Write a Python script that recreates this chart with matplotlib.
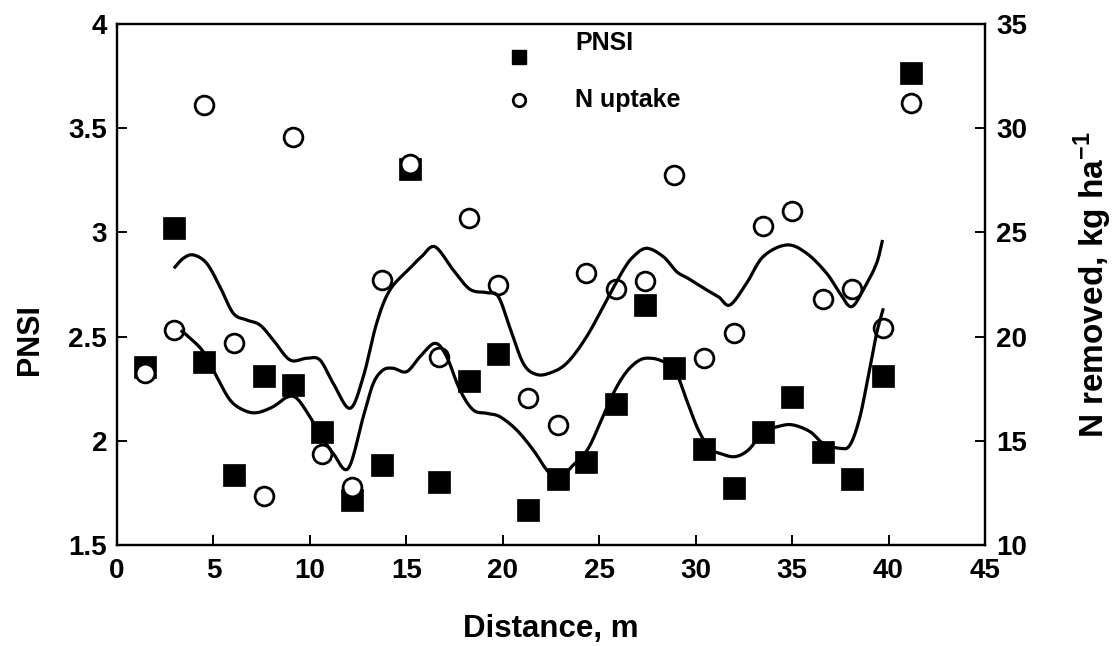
import numpy as np
import matplotlib
matplotlib.use("Agg")
import matplotlib.pyplot as plt

plt.rcParams['font.family'] = ['Liberation Sans', 'DejaVu Sans']
plt.rcParams['font.weight'] = 'bold'
plt.rcParams['mathtext.fontset'] = 'custom'
plt.rcParams['mathtext.bf'] = 'Liberation Sans:bold'
plt.rcParams['mathtext.rm'] = 'Liberation Sans:bold'

# Sampling positions along the transect (m)
distance = [1.45, 2.95, 4.5, 6.08, 7.62, 9.1, 10.64, 12.2, 13.72, 15.19, 16.72,
            18.23, 19.77, 21.3, 22.84, 24.34, 25.86, 27.39, 28.88, 30.45, 31.97,
            33.48, 35.0, 36.6, 38.13, 39.69, 41.16]

# Plant nitrogen sufficiency index
pnsi = [2.354, 3.02, 2.378, 1.836, 2.312, 2.268, 2.044, 1.716, 1.884, 3.306,
        1.804, 2.287, 2.417, 1.668, 1.815, 1.897, 2.175, 2.652, 2.348, 1.959,
        1.772, 2.044, 2.212, 1.948, 1.815, 2.311, 3.766]

# N removed (kg/ha)
n_uptake = [18.27, 20.32, 31.11, 19.68, 12.35, 29.59, 14.37, 12.77, 22.72, 28.27,
            19.01, 25.68, 22.48, 17.04, 15.76, 23.04, 22.27, 22.68, 27.75, 18.96,
            20.16, 25.32, 26.03, 21.79, 22.28, 20.4, 31.19]

# Smoothed trend of PNSI
pnsi_trend_x = [3.3, 3.7, 4.47, 5.17, 5.86, 6.55, 7.24, 8.1, 8.8, 9.32, 10.0, 10.61,
                11.21, 11.99, 12.77, 13.29, 13.8, 14.32, 15.02, 15.71, 16.49, 17.09,
                17.78, 18.47, 19.17, 19.85, 20.72, 21.58, 22.28, 22.88, 23.57, 24.38,
                25.04, 25.73, 26.42, 27.11, 27.72, 28.32, 28.93, 29.53, 30.14, 30.74,
                31.35, 32.04, 32.73, 33.5, 34.37, 35.06, 35.93, 36.61, 37.48, 38.0,
                38.52, 39.04, 39.38, 39.73]
pnsi_trend_y = [2.53, 2.50, 2.428, 2.308, 2.196, 2.148, 2.135, 2.164, 2.209, 2.204,
                2.116, 2.02, 1.94, 1.868, 2.116, 2.276, 2.34, 2.348, 2.332, 2.404,
                2.468, 2.404, 2.244, 2.148, 2.132, 2.116, 2.052, 1.956, 1.86, 1.812,
                1.876, 1.956, 2.084, 2.228, 2.332, 2.388, 2.396, 2.38, 2.34, 2.196,
                2.052, 1.964, 1.937, 1.924, 1.956, 2.039, 2.071, 2.076, 2.044, 1.988,
                1.964, 1.98, 2.116, 2.356, 2.516, 2.636]

# Smoothed trend of N removed
n_trend_x = [2.95, 3.44, 3.96, 4.65, 5.34, 6.03, 6.72, 7.41, 8.1, 8.97, 9.83, 10.52,
             11.21, 12.08, 12.77, 13.46, 14.15, 15.19, 15.8, 16.49, 17.43, 18.3,
             19.17, 19.77, 20.38, 21.06, 21.7, 22.4, 23.31, 24.35, 25.39, 26.25,
             26.77, 27.46, 28.32, 29.01, 29.6, 30.57, 31.2, 31.78, 32.64, 33.5,
             34.72, 35.75, 36.79, 37.48, 38.09, 38.78, 39.38, 39.69]
n_trend_y = [23.28, 23.76, 23.92, 23.52, 22.39, 21.12, 20.8, 20.56, 19.84, 18.88,
             18.96, 18.88, 17.76, 16.56, 18.08, 20.64, 22.24, 23.28, 23.85, 24.31,
             23.2, 22.27, 22.11, 21.92, 20.4, 18.72, 18.2, 18.24, 18.72, 20.0, 21.76,
             23.2, 23.84, 24.24, 23.84, 23.12, 22.8, 22.24, 21.9, 21.52, 22.56,
             23.84, 24.4, 24.0, 23.04, 22.08, 21.44, 22.4, 23.52, 24.64]

x_ticks = [0, 5, 10, 15, 20, 25, 30, 35, 40, 45]
left_ticks = [1.5, 2, 2.5, 3, 3.5, 4]
left_tick_labels = ['1.5', '2', '2.5', '3', '3.5', '4']
right_ticks = [10, 15, 20, 25, 30, 35]


def catmull_rom(xs, ys, n=14):
    """Smooth curve passing through the given nodes."""
    P = np.column_stack([np.asarray(xs, float), np.asarray(ys, float)])
    P = np.vstack([2 * P[0] - P[1], P, 2 * P[-1] - P[-2]])
    t = np.linspace(0, 1, n, endpoint=False)[:, None]
    segs = []
    for i in range(1, len(P) - 2):
        p0, p1, p2, p3 = P[i - 1], P[i], P[i + 1], P[i + 2]
        segs.append(0.5 * (2 * p1 + (-p0 + p2) * t
                           + (2 * p0 - 5 * p1 + 4 * p2 - p3) * t ** 2
                           + (-p0 + 3 * p1 - 3 * p2 + p3) * t ** 3))
    segs.append(P[-2][None, :])
    c = np.vstack(segs)
    return c[:, 0], c[:, 1]


fig = plt.figure(figsize=(11.14, 6.46), dpi=100)
ax = fig.add_axes([0.105, 0.1563, 0.7792, 0.8065])
ax2 = ax.twinx()

# Data markers
ax.plot(distance, pnsi, linestyle='none', marker='s', ms=15.5, mfc='black',
        mec='black', mew=0.5, zorder=2)
ax2.plot(distance, n_uptake, linestyle='none', marker='o', ms=13.5, mfc='white',
         mec='black', mew=2.0, zorder=2)

# Trend lines drawn above both marker sets
tx, ty = catmull_rom(pnsi_trend_x, pnsi_trend_y)
ax2.plot(tx, ty, color='black', lw=2.3, transform=ax.transData, zorder=3,
         solid_capstyle='butt')
tx, ty = catmull_rom(n_trend_x, n_trend_y)
ax2.plot(tx, ty, color='black', lw=2.3, zorder=3, solid_capstyle='butt')

ax.set_xlim(0, 45)
ax.set_ylim(1.5, 4)
ax2.set_ylim(10, 35)

ax.set_xticks(x_ticks)
ax.set_xticklabels([str(v) for v in x_ticks])
ax.set_yticks(left_ticks)
ax.set_yticklabels(left_tick_labels)
ax2.set_yticks(right_ticks)

for a in (ax, ax2):
    for s in a.spines.values():
        s.set_linewidth(1.6)
ax.tick_params(axis='x', direction='in', length=7, width=1.4,
               labelsize=20, pad=9, top=False)
ax.tick_params(axis='y', direction='in', length=7, width=1.4,
               labelsize=20, pad=7, right=False)
ax2.tick_params(axis='y', direction='in', length=7, width=1.4,
                labelsize=20, pad=8)
for lab in ax.get_xticklabels() + ax.get_yticklabels() + ax2.get_yticklabels():
    lab.set_fontweight('bold')

ax.set_xlabel('Distance, m', fontsize=22.5, fontweight='bold')
ax.xaxis.set_label_coords(0.5, -0.133)
ax.set_ylabel('PNSI', fontsize=22, fontweight='bold')
ax.yaxis.set_label_coords(-0.083, 0.395)
ax2.set_ylabel(r'N removed, kg ha$^{\mathbf{-1}}$', fontsize=24,
               fontweight='bold')
ax2.yaxis.set_label_coords(1.1, 0.5)

# Key
ax.plot([0.4631], [0.937], transform=ax.transAxes, marker='s', ms=10.5,
        mfc='black', mec='black', linestyle='none', clip_on=False, zorder=5)
ax.plot([0.4631], [0.854], transform=ax.transAxes, marker='o', ms=9, mfc='white',
        mec='black', mew=2, linestyle='none', clip_on=False, zorder=5)
ax.text(0.5276, 0.963, 'PNSI', transform=ax.transAxes, fontsize=18,
        fontweight='bold', va='center', ha='left')
ax.text(0.5276, 0.854, 'N uptake', transform=ax.transAxes, fontsize=18,
        fontweight='bold', va='center', ha='left')

fig.savefig('out.png', dpi=100)
